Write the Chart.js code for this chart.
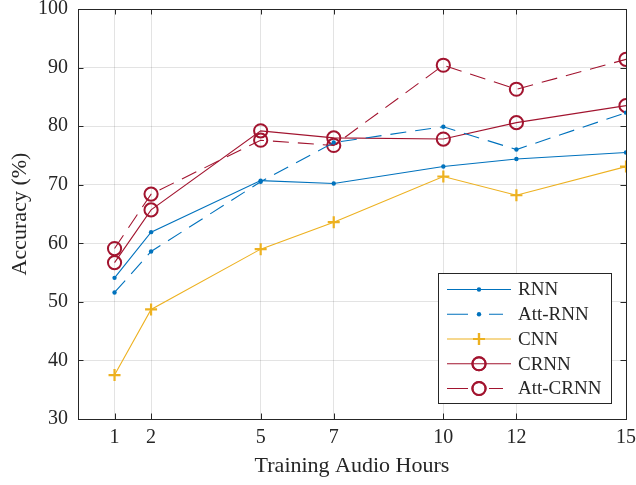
<!DOCTYPE html>
<html><head><meta charset="utf-8">
<script src="https://cdn.jsdelivr.net/npm/chart.js@4"></script>
<style>html,body{margin:0;padding:0;background:#fff}</style>
</head><body>
<canvas id="c" width="636" height="485"></canvas>
<script>
const hours = [1, 2, 5, 7, 10, 12, 15];
const xTickValues = [1, 2, 5, 7, 10, 12, 15];
const yTickValues = [30, 40, 50, 60, 70, 80, 90, 100];
const seriesNames = ['RNN', 'Att-RNN', 'CNN', 'CRNN', 'Att-CRNN'];
const rnn     = [54.1, 61.9, 70.7, 70.2, 73.1, 74.4, 75.5];
const attRnn  = [51.6, 58.6, 70.5, 77.2, 79.9, 76.0, 82.3];
const cnn     = [37.5, 48.7, 59.0, 63.6, 71.4, 68.2, 73.1];
const crnn    = [56.7, 65.7, 79.2, 78.0, 77.8, 80.6, 83.5];
const attCrnn = [59.1, 68.4, 77.6, 76.7, 90.4, 86.3, 91.4];
const xTitle = 'Training Audio Hours';
const yTitle = 'Accuracy (%)';

const BLUE = '#0072BD', YEL = '#EDB120', RED = '#A2142F', INK = '#262626';
const FONT = '"Liberation Serif", "Times New Roman", serif';
const DASH = [16, 9];

function pts(vals) { return hours.map((h, i) => ({x: h, y: vals[i]})); }
function ds(label, vals, color, style, radius, bw, dashed) {
  return {
    label, data: pts(vals), borderColor: color, backgroundColor: style === 'circle' ? 'rgba(0,0,0,0)' : color,
    borderWidth: 1.1, borderDash: dashed ? DASH : [], pointStyle: style, pointRadius: radius,
    pointBorderWidth: bw, pointBorderColor: color, pointBackgroundColor: style === 'circle' ? 'rgba(0,0,0,0)' : color,
    tension: 0, fill: false, _dashed: dashed
  };
}
const datasets = [
  ds(seriesNames[0], rnn, BLUE, 'circle', 0, 0, false),
  ds(seriesNames[1], attRnn, BLUE, 'circle', 0, 0, true),
  ds(seriesNames[2], cnn, YEL, 'cross', 6, 2.2, false),
  ds(seriesNames[3], crnn, RED, 'circle', 6.6, 2, false),
  ds(seriesNames[4], attCrnn, RED, 'circle', 6.6, 2, true)
];
// small filled dots for RNN series
[0, 1].forEach(i => { datasets[i].pointRadius = 2.2; datasets[i].pointBackgroundColor = BLUE; datasets[i].pointBorderWidth = 0; });

const frame = {
  id: 'frame',
  beforeDatasetsDraw(chart) {
    const {ctx, chartArea: a, scales: {x, y}} = chart;
    ctx.save();
    ctx.strokeStyle = INK; ctx.lineWidth = 1;
    ctx.strokeRect(Math.round(a.left) + 0.5, Math.round(a.top) + 0.5, Math.round(a.right - a.left), Math.round(a.bottom - a.top));
    const tl = 5.5;
    ctx.beginPath();
    xTickValues.forEach(v => {
      const px = Math.round(x.getPixelForValue(v)) + 0.5;
      ctx.moveTo(px, a.bottom); ctx.lineTo(px, a.bottom - tl);
      ctx.moveTo(px, a.top); ctx.lineTo(px, a.top + tl);
    });
    yTickValues.forEach(v => {
      const py = Math.round(y.getPixelForValue(v)) + 0.5;
      ctx.moveTo(a.left, py); ctx.lineTo(a.left + tl, py);
      ctx.moveTo(a.right, py); ctx.lineTo(a.right - tl, py);
    });
    ctx.stroke();
    ctx.restore();
  }
};

const legendBox = {
  id: 'legendBox',
  afterDraw(chart) {
    const ctx = chart.ctx;
    const bx = 438.5, by = 273.5, bw = 173, bh = 130;
    ctx.save();
    ctx.fillStyle = '#fff'; ctx.fillRect(bx, by, bw, bh);
    ctx.strokeStyle = INK; ctx.lineWidth = 1; ctx.strokeRect(bx, by, bw, bh);
    ctx.font = '19px ' + FONT; ctx.textBaseline = 'middle'; ctx.fillStyle = INK;
    chart.data.datasets.forEach((d, i) => {
      const cy = 289.5 + i * 24.75;
      const mx = 479;
      ctx.strokeStyle = d.borderColor; ctx.lineWidth = 1.1; ctx.setLineDash([]);
      ctx.beginPath();
      if (d._dashed) {
        ctx.moveTo(447, cy); ctx.lineTo(468, cy);
        ctx.moveTo(489, cy); ctx.lineTo(503, cy);
      } else {
        ctx.moveTo(447, cy); ctx.lineTo(511, cy);
      }
      ctx.stroke();
      ctx.lineWidth = d.pointBorderWidth || 1;
      ctx.fillStyle = d.pointBackgroundColor;
      Chart.helpers.drawPoint(ctx, {pointStyle: d.pointStyle, radius: d.pointRadius, rotation: 0, borderWidth: d.pointBorderWidth}, mx, cy);
      if (d.pointBorderWidth) ctx.stroke();
      ctx.fillStyle = INK;
      ctx.fillText(d.label, 518, cy + 1);
    });
    ctx.restore();
  }
};

new Chart(document.getElementById('c'), {
  type: 'line',
  data: {datasets},
  options: {
    responsive: false, animation: false, devicePixelRatio: 1,
    layout: {padding: {top: 9, right: 10, left: 0, bottom: 0}},
    plugins: {legend: {display: false}, tooltip: {enabled: false}},
    scales: {
      x: {
        type: 'linear', min: 0, max: 15,
        afterBuildTicks(s) { s.ticks = xTickValues.map(v => ({value: v})); },
        afterFit(s) { s.height = 66; s.paddingLeft = 0; s.paddingRight = 0; },
        grid: {color: 'rgba(38,38,38,0.13)', drawTicks: false},
        border: {display: false},
        ticks: {color: INK, font: {family: FONT, size: 20}, padding: 7, maxRotation: 0, autoSkip: false},
        title: {display: true, text: xTitle, color: INK, font: {family: FONT, size: 22}, padding: {top: 0, bottom: 6}}
      },
      y: {
        type: 'linear', min: 30, max: 100,
        afterBuildTicks(s) { s.ticks = yTickValues.map(v => ({value: v})); },
        afterFit(s) { s.width = 78; s.paddingTop = 0; s.paddingBottom = 0; },
        grid: {color: 'rgba(38,38,38,0.13)', drawTicks: false},
        border: {display: false},
        ticks: {color: INK, font: {family: FONT, size: 20}, padding: 10},
        title: {display: true, text: yTitle, color: INK, font: {family: FONT, size: 22}, padding: {top: 7, bottom: 0}}
      }
    }
  },
  plugins: [frame, legendBox]
});
</script>
</body></html>
